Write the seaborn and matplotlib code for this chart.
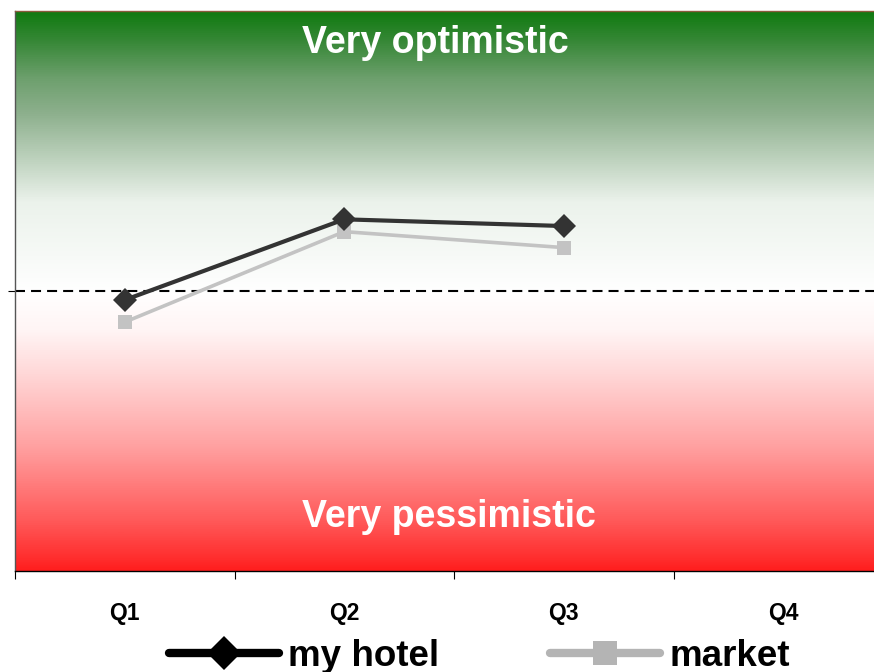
import numpy as np
import pandas as pd
import matplotlib
matplotlib.use("Agg")
import matplotlib.pyplot as plt
from matplotlib.colors import LinearSegmentedColormap
from matplotlib.lines import Line2D
import seaborn as sns

# Quarterly sentiment index (0 = neutral)
quarters = ["Q1", "Q2", "Q3", "Q4"]
my_hotel = [-3.2, 25.6, 23.2, np.nan]
market = [-11.1, 21.2, 15.5, np.nan]
series_names = ["my hotel", "market"]
top_label = "Very optimistic"
bottom_label = "Very pessimistic"

sns.set_theme(style="white")
plt.rcParams["font.family"] = ["Liberation Sans", "DejaVu Sans"]
plt.rcParams["text.color"] = "black"
plt.rcParams["xtick.color"] = "black"
plt.rcParams["ytick.color"] = "black"

df = pd.DataFrame({
    "pos": np.tile(np.arange(len(quarters)), 2),
    "value": my_hotel + market,
    "series": np.repeat(series_names, len(quarters)),
}).dropna()

fig = plt.figure(figsize=(8.74, 6.72), dpi=100)
ax = fig.add_axes([15 / 874, 101 / 672, 878 / 874, 560 / 672])

ymin, ymax = -100, 100
xmin, xmax = -0.5, len(quarters) - 0.5

# green-to-white-to-red background band
stops = [
    (0.00, (255, 30, 30)),
    (0.02, (255, 45, 45)),
    (0.09, (255, 90, 90)),
    (0.22, (255, 160, 160)),
    (0.35, (255, 215, 215)),
    (0.43, (255, 245, 245)),
    (0.50, (255, 255, 255)),
    (0.66, (235, 242, 235)),
    (0.82, (140, 175, 140)),
    (0.88, (110, 160, 110)),
    (0.95, (53, 135, 53)),
    (1.00, (16, 122, 16)),
]
cmap = LinearSegmentedColormap.from_list(
    "mood", [(p, tuple(c / 255 for c in rgb)) for p, rgb in stops])
grad = np.linspace(0, 1, 512).reshape(-1, 1)
ax.imshow(grad, aspect="auto", cmap=cmap, origin="lower",
          extent=[xmin, xmax, ymin, ymax], zorder=0, interpolation="bilinear")

ax.axhline(0, color="black", lw=1.5, dashes=(4.8, 2.9), zorder=1)

palette = {"my hotel": "#333333", "market": "#c3c3c3"}
markers = {"my hotel": "D", "market": "s"}
sns.lineplot(data=df, x="pos", y="value", hue="series", style="series",
             palette=palette, markers=markers, dashes=False,
             hue_order=["market", "my hotel"], style_order=["market", "my hotel"],
             markersize=11, markeredgewidth=0, linewidth=3, legend=False,
             ax=ax, zorder=3)
for line in ax.lines[1:]:
    if line.get_color() == "#c3c3c3":
        line.set_linewidth(2.6)
        line.set_markersize(10.5)
    else:
        line.set_markersize(12)

ax.set_xlim(xmin, xmax)
ax.set_ylim(ymin, ymax)

ax.set_xticks(np.arange(-0.5, len(quarters), 1.0))
ax.set_xticklabels([])
ax.set_xticks(np.arange(len(quarters)), minor=True)
ax.set_xticklabels(quarters, minor=True, fontsize=16.5, fontweight="bold",
                   color="black")
ax.tick_params(axis="x", which="major", direction="out", length=5.5,
               width=0.8, color="black", bottom=True)
ax.tick_params(axis="x", which="minor", length=0, pad=22.5)
ax.set_yticks([0])
ax.set_yticklabels([])
ax.tick_params(axis="y", direction="out", length=5, width=0.8,
               color="black", left=True)
ax.set_xlabel("")
ax.set_ylabel("")

for side in ["top", "right"]:
    ax.spines[side].set_visible(True)
ax.spines["top"].set_color("#8b5a3c")
ax.spines["left"].set_color("#555555")
ax.spines["bottom"].set_color("black")
for s in ax.spines.values():
    s.set_linewidth(1.0)

ax.text(0.327, 0.943, top_label, transform=ax.transAxes, color="white",
        fontsize=27, fontweight="bold", ha="left", va="center")
ax.text(0.327, 0.097, bottom_label, transform=ax.transAxes, color="white",
        fontsize=27, fontweight="bold", ha="left", va="center")

handles = [
    Line2D([], [], color="black", lw=6, marker="D", markersize=17,
           markeredgewidth=0),
    Line2D([], [], color="#b4b4b4", lw=6, marker="s", markersize=17,
           markeredgewidth=0),
]
leg = fig.legend(handles, series_names, loc="center", ncol=2,
                 bbox_to_anchor=(479.5 / 874, 1 - 656 / 672),
                 frameon=False, handlelength=3.0, handletextpad=0.25,
                 columnspacing=3.0, borderpad=0,
                 prop={"size": 26.5, "weight": "bold"})
for t in leg.get_texts():
    t.set_color("black")

fig.savefig("out.png", dpi=100)
